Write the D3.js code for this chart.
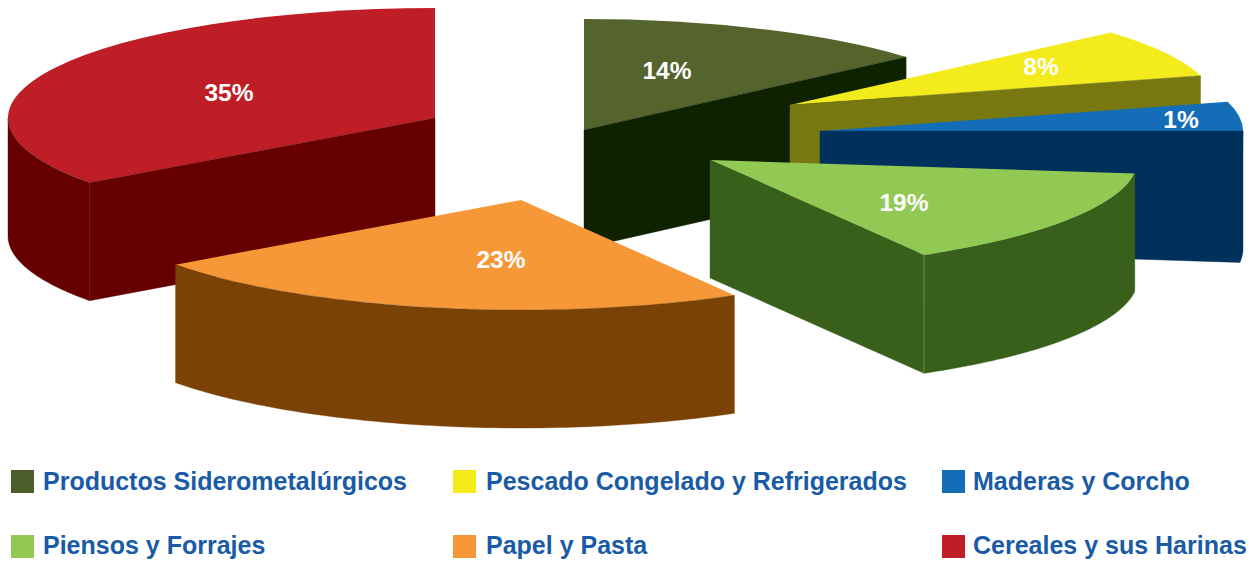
<!DOCTYPE html>
<html><head><meta charset="utf-8">
<style>html,body{margin:0;padding:0;background:#fff}svg{display:block}text{font-family:"Liberation Sans",Arial,sans-serif;font-weight:700}</style>
<script src="https://cdnjs.cloudflare.com/ajax/libs/d3/7.8.5/d3.min.js"></script>
</head><body>
<svg id="c" width="1249" height="562"></svg>
<script>
// --- data ---
const categories = ["Productos Siderometalúrgicos","Pescado Congelado y Refrigerados","Maderas y Corcho","Piensos y Forrajes","Papel y Pasta","Cereales y sus Harinas"];
const printedPercent = [14, 8, 1, 19, 23, 35];
// the drawn wedges do not follow the printed figures: share of the circle as measured
const wedgeShare = [13.56, 7.14, 6.25, 14.72, 23.33, 35.0];
const topColours = ["#55632d","#f4eb1c","#136eb7","#91c954","#f79838","#bf1e26"];
const wallColours = ["#0f2200","#787810","#00305c","#38601b","#7a4204","#660000"];
const legendColours = ["#4d5e2b","#f4eb1c","#136eb7","#91c954","#f79838","#bf1e26"];

// --- layout ---
const DEPTH = 118;
const centres = [[584,130],[790,105],[820,131],[710,160],[521,200],[435,118]];
const radiiX = [428,426,423,428,427,427];
const radiiY = [111,110,110,110,110,110];
const labelAt = [[667,70],[1041,66],[1181,119],[904,202],[501,259],[229,92]];
const drawOrder = [5,0,1,2,3,4];
const wallTopLimit = {2: Math.PI/2}; // the Maderas wall rises to the horizontal
const legendX = [11,453,942], legendTextX = [43,486,973], legendY = [470,535], legendBase = [489.5,554];

const svg = d3.select("#c");
const pie = d3.pie().sort(null).value(d=>d);
const arcs = pie(wedgeShare);
const line = d3.line();
const rim = (i,a,h=0)=>[centres[i][0]+radiiX[i]*Math.sin(a), centres[i][1]-radiiY[i]*Math.cos(a)+h];

const slices = svg.selectAll("g.slice").data(drawOrder).join("g").attr("class","slice");
slices.each(function(i){
  const g = d3.select(this), A = arcs[i], c = centres[i], rx = radiiX[i];
  // top face
  g.append("path")
    .attr("d", d3.arc().innerRadius(0).outerRadius(rx)(A))
    .attr("transform",`translate(${c[0]},${c[1]}) scale(1,${radiiY[i]/rx})`)
    .attr("fill",topColours[i]);
  // outer wall, front half only
  const a0 = Math.max(A.startAngle, Math.PI/2), a1 = Math.min(A.endAngle, 3*Math.PI/2);
  if (a1 > a0){
    const as = d3.range(0,81).map(k=>a0+(a1-a0)*k/80);
    const pts = as.map(a=>rim(i,a)).concat(as.slice().reverse().map(a=>rim(i,a,DEPTH)));
    g.append("path").attr("d",line(pts)+"Z").attr("fill",wallColours[i])
      .attr("stroke",wallColours[i]).attr("stroke-width",0.4);
  }
  // visible radial wall
  const radial = A.endAngle < Math.PI ? A.endAngle : (A.startAngle > Math.PI ? A.startAngle : null);
  if (radial !== null){
    const topA = wallTopLimit[i] !== undefined ? wallTopLimit[i] : radial;
    g.append("path").attr("d", line([c, rim(i,topA), rim(i,radial,DEPTH), [c[0],c[1]+DEPTH]])+"Z")
      .attr("fill",wallColours[i]).attr("stroke",wallColours[i]).attr("stroke-width",0.4);
  }
});
// fine seam on the Piensos corner
{
  const p = rim(3, arcs[3].endAngle);
  svg.append("path").attr("d",line([p,[p[0],p[1]+DEPTH]])).attr("stroke","#7f9a68").attr("stroke-width",0.7);
}
// figures
svg.selectAll("text.pct").data(printedPercent).join("text").attr("class","pct")
  .attr("x",(d,i)=>labelAt[i][0]).attr("y",(d,i)=>labelAt[i][1]+8.5)
  .attr("text-anchor","middle").attr("fill","#fff").attr("font-size",24.5)
  .text(d=>d+"%");
// legend
const leg = svg.selectAll("g.leg").data(categories).join("g").attr("class","leg");
leg.append("rect").attr("x",(d,i)=>legendX[i%3]).attr("y",(d,i)=>legendY[Math.floor(i/3)])
  .attr("width",23).attr("height",23).attr("fill",(d,i)=>legendColours[i]);
leg.append("text").attr("x",(d,i)=>legendTextX[i%3]).attr("y",(d,i)=>legendBase[Math.floor(i/3)])
  .attr("font-size",25).attr("fill","#1a5ba5").text(d=>d);
</script>
</body></html>
